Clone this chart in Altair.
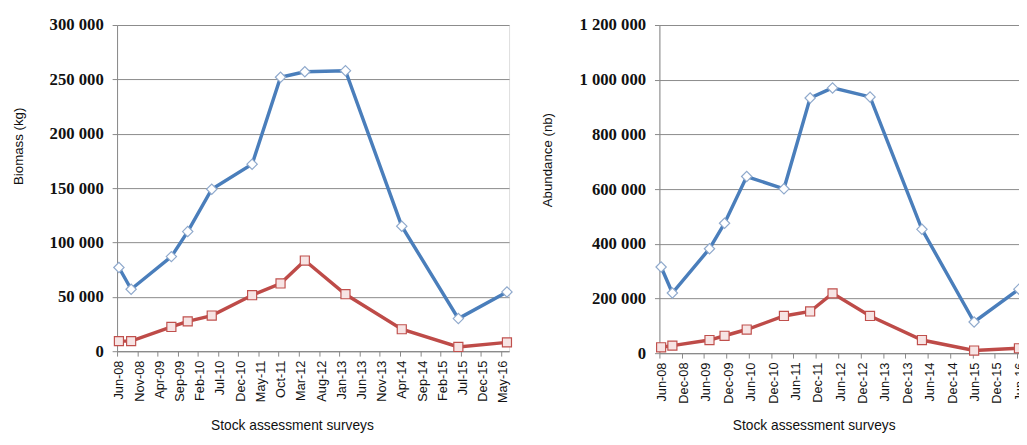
import altair as alt
import pandas as pd

# ---- data ----
survey_dates = ["2008-06-15", "2008-09-15", "2009-07-15", "2009-11-15", "2010-05-15",
                "2011-03-15", "2011-10-15", "2012-04-15", "2013-02-15", "2014-04-15",
                "2015-06-15", "2016-06-15"]
biomass_blue = [77000, 57000, 87000, 110000, 149000, 172000, 252000, 257000, 258000, 115000, 30000, 54500]
biomass_red = [9300, 9300, 22300, 27400, 32800, 51500, 62300, 83400, 52400, 20200, 3900, 8100]
abundance_blue = [315000, 220000, 382000, 475000, 646000, 601000, 933000, 970000, 937000, 453000, 114000, 234000]
abundance_red = [21600, 27700, 48000, 63700, 86500, 136000, 152500, 218700, 136000, 48000, 9700, 18000]

# tick months (year, month)
left_ticks = [(2008, 6), (2008, 11), (2009, 4), (2009, 9), (2010, 2), (2010, 7), (2010, 12),
              (2011, 5), (2011, 10), (2012, 3), (2012, 8), (2013, 1), (2013, 6), (2013, 11),
              (2014, 4), (2014, 9), (2015, 2), (2015, 7), (2015, 12), (2016, 5)]
right_ticks = [(2008, 6), (2008, 12), (2009, 6), (2009, 12), (2010, 6), (2010, 12), (2011, 6),
               (2011, 12), (2012, 6), (2012, 12), (2013, 6), (2013, 12), (2014, 6), (2014, 12),
               (2015, 6), (2015, 12), (2016, 6), (2016, 12)]
left_domain = [(2008, 6), (2016, 7)]
right_domain = [(2008, 6), (2016, 12)]

BLUE = "#4A7EBB"
RED = "#BE4B48"
LABEL_FONT = "Liberation Sans"
NUM_FONT = "Liberation Serif"


def dt(ym):
    return alt.DateTime(year=ym[0], month=ym[1], date=1, utc=True)


def build_df(blue, red):
    rows = []
    for d, v in zip(survey_dates, blue):
        rows.append({"date": d, "value": v, "series": "blue"})
    for d, v in zip(survey_dates, red):
        rows.append({"date": d, "value": v, "series": "red"})
    return pd.DataFrame(rows)


def panel(blue, red, ytitle, ymax, ystep, width, height, domain, ticks,
          ytx, yty, xtx, xty):
    df = build_df(blue, red)
    label_expr = "replace(replace(format(datum.value, ','), ',', ' '), ',', ' ')"
    x = alt.X(
        "date:T",
        scale=alt.Scale(type="utc", domain=[dt(domain[0]), dt(domain[1])]),
        axis=alt.Axis(
            values=[dt(t) for t in ticks], labelExpr="utcFormat(datum.value, '%b-%y')",
            labelAngle=-90, labelFont=LABEL_FONT, labelFontSize=13, labelColor="#111",
            labelPadding=4, labelOffset=2, tickSize=5, tickColor="#888", domainColor="#888",
            grid=False, title="Stock assessment surveys", titleFont=LABEL_FONT,
            titleFontSize=14, titleFontWeight="normal", titleColor="#111",
            titleX=xtx, titleY=xty, titleBaseline="middle", titleAlign="center",
            labelOverlap=False, labelFlush=False,
        ),
    )
    y = alt.Y(
        "value:Q",
        scale=alt.Scale(domain=[0, ymax], nice=False),
        axis=alt.Axis(
            values=list(range(0, ymax + 1, ystep)), labelExpr=label_expr,
            labelFont=NUM_FONT, labelFontSize=17, labelFontWeight="bold", labelColor="#111",
            labelPadding=9, tickSize=5, tickColor="#888", domainColor="#888",
            grid=True, gridColor="#8a8a8a", gridWidth=1,
            title=ytitle, titleFont=LABEL_FONT, titleFontSize=13.5, titleFontWeight="normal",
            titleColor="#111", titleX=ytx, titleY=yty, titleBaseline="middle",
            titleAlign="center", titleAngle=-90,
        ),
    )
    base = alt.Chart(df)
    blue_df = base.transform_filter(alt.datum.series == "blue")
    red_df = base.transform_filter(alt.datum.series == "red")
    blue_line = blue_df.mark_line(color=BLUE, strokeWidth=3.5).encode(x=x, y=y)
    red_line = red_df.mark_line(color=RED, strokeWidth=3.5).encode(x=x, y=y)
    blue_pts = blue_df.mark_point(shape="diamond", size=110, filled=True, fill="white",
                                  stroke="#8FA9CC", strokeWidth=1.2, opacity=1).encode(x=x, y=y)
    red_pts = red_df.mark_point(shape="square", size=85, filled=True, fill="#F7E4E4",
                                stroke="#C0504D", strokeWidth=1.2, opacity=1).encode(x=x, y=y)
    return alt.layer(blue_line, red_line, blue_pts, red_pts).properties(width=width, height=height)


left = panel(biomass_blue, biomass_red, "Biomass (kg)", 300000, 50000, 399, 332,
             left_domain, left_ticks, -100, 123, 178, 76)
right = panel(abundance_blue, abundance_red, "Abundance (nb)", 1200000, 200000, 387, 334,
              right_domain, right_ticks, -114, 137, 157, 74)

chart = alt.hconcat(left, right, spacing=25).properties(
    padding={"left": 3, "top": 3.5, "right": -31, "bottom": 0}
).configure_view(stroke="#1a1a1a", strokeWidth=1).configure(background="white")

chart.save("out.html", embed_options={"renderer": "svg", "actions": False})
